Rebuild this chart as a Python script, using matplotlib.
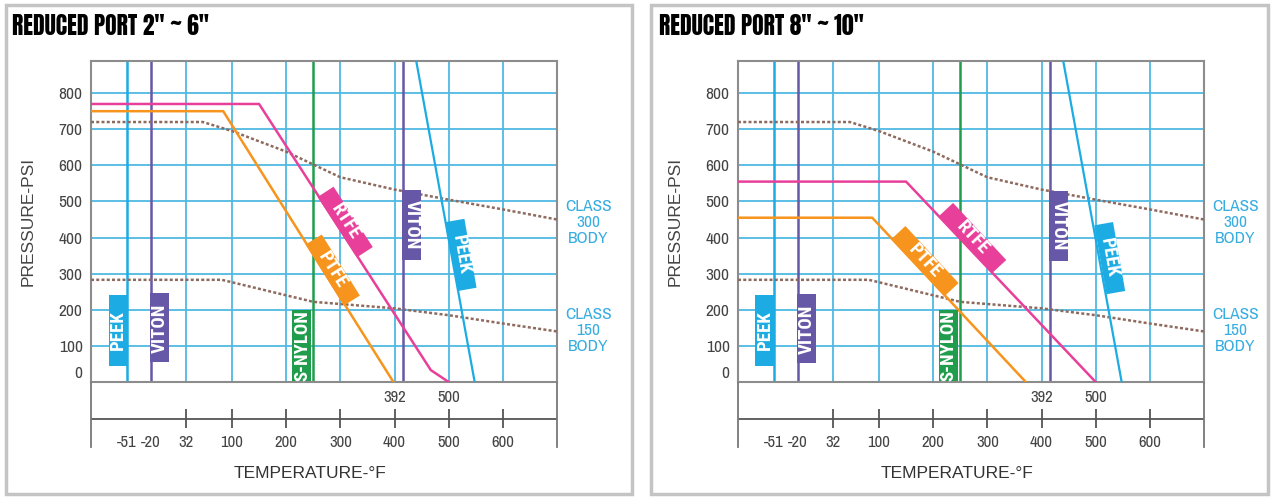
import numpy as np
import matplotlib
matplotlib.use("Agg")
import matplotlib.pyplot as plt
from matplotlib.patches import Rectangle
from matplotlib.transforms import Affine2D, ScaledTranslation, blended_transform_factory

# ---- values ----
pressure_ticks = [0, 100, 200, 300, 400, 500, 600, 700, 800]
grid_temps = [32, 100, 200, 300, 400, 500, 600]
temp_labels = [-51, -20, 32, 100, 200, 300, 400, 500, 600]
limit_labels = ["392", "500"]
limit_label_temps = [400, 500]

# ASME body ratings (same in both panels)
class300_t = [-100, 57, 100, 200, 300, 400, 500, 600, 700]
class300_p = [720, 720, 695, 638, 567, 533, 505, 478, 450]
class150_t = [-100, 85, 250, 400, 500, 600, 700]
class150_p = [283, 283, 222, 204, 185, 162, 140]

# seat limits
peek_min_t = -51
viton_min_t = -20
nylon_max_t = 250
viton_max_t = 416
peek_t = [440, 548]
peek_p = [890, 0]

# reduced port 2" ~ 6"
small_rtfe_t = [-100, 150, 467, 500]
small_rtfe_p = [770, 770, 33, 0]
small_ptfe_t = [-100, 87, 398]
small_ptfe_p = [750, 750, 0]

# reduced port 8" ~ 10"
large_rtfe_t = [-100, 150, 500]
large_rtfe_p = [555, 555, 0]
large_ptfe_t = [-100, 90, 371]
large_ptfe_p = [455, 455, 0]

# colours / fonts
GRID = "#4fb9e3"
PEEK = "#1cace3"
VITON = "#6658a6"
NYLON = "#1f9d4c"
PTFE = "#f7941d"
RTFE = "#e8409a"
BODY = "#8e6a5e"
CLASS_TXT = "#38ade0"
NARROW = ["Archivo Narrow", "DejaVu Sans"]
NARROW_BOLD = ["Roboto Condensed", "DejaVu Sans"]
TITLE_FONT = ["Anton", "DejaVu Sans"]
SANS = ["Liberation Sans", "DejaVu Sans"]

# temperature axis is stretched below 100 F on the original
knot_t = [-100, -51, -20, 32, 100, 700]
knot_x = [0, 36, 60, 95, 141, 466]


def fwd(t):
    return np.interp(t, knot_t, knot_x)


def inv(x):
    return np.interp(x, knot_x, knot_t)


def tag(ax, t, p, text, color, angle, length, width=0.19):
    fig = ax.figure
    tr = Affine2D().rotate_deg(angle) + fig.dpi_scale_trans + ScaledTranslation(t, p, ax.transData)
    ax.add_patch(Rectangle((-length / 2, -width / 2), length, width, transform=tr,
                           facecolor=color, edgecolor="none", zorder=5, clip_on=False))
    ax.text(t, p, text, rotation=angle, rotation_mode="anchor", ha="center", va="center",
            color="white", fontsize=13.5, fontweight="bold", family=NARROW_BOLD, zorder=6)


def panel(fig, x0, title, rtfe_t, rtfe_p, ptfe_t, ptfe_p, tags):
    W, H = 1274, 499
    ax = fig.add_axes([x0 / W, (H - 382) / H, 466 / W, 321 / H])
    ax.set_xscale("function", functions=(fwd, inv))
    ax.set_xlim(-100, 700)
    ax.set_ylim(0, 889)
    for s in ax.spines.values():
        s.set_color("#8c8c8c")
        s.set_linewidth(1.5)

    for p in pressure_ticks[1:]:
        ax.axhline(p, color=GRID, lw=1.3, zorder=1)
    for t in grid_temps:
        ax.axvline(t, color=GRID, lw=1.3, zorder=1)
    ax.axvline(peek_min_t, color=PEEK, lw=1.8, zorder=2)
    ax.axvline(viton_min_t, color=VITON, lw=1.8, zorder=2)
    ax.axvline(nylon_max_t, color=NYLON, lw=1.8, zorder=2)
    ax.axvline(viton_max_t, color=VITON, lw=1.8, zorder=2)

    ax.plot(class300_t, class300_p, color=BODY, lw=1.8, ls=(0, (1.2, 0.9)), zorder=3)
    ax.plot(class150_t, class150_p, color=BODY, lw=1.8, ls=(0, (1.2, 0.9)), zorder=3)
    ax.plot(peek_t, peek_p, color=PEEK, lw=1.6, zorder=3)
    ax.plot(ptfe_t, ptfe_p, color=PTFE, lw=1.8, zorder=4)
    ax.plot(rtfe_t, rtfe_p, color=RTFE, lw=1.8, zorder=4)

    ax.set_xticks([])
    ax.set_yticks(pressure_ticks)
    ax.set_yticklabels([str(p) for p in pressure_ticks], family=NARROW, fontsize=12.5, color="#444444")
    ax.tick_params(axis="y", length=0, pad=6)
    zero = ax.get_yticklabels()[0]
    zero.set_transform(zero.get_transform() + ScaledTranslation(0, 0.1, fig.dpi_scale_trans))
    ax.set_ylabel("PRESSURE-PSI", family=SANS, fontsize=12.5, color="#444444")
    ax.yaxis.set_label_coords(-0.118, 0.5)

    tr = blended_transform_factory(ax.transAxes, ax.transData)
    ax.text(1.067, 441, "CLASS\n300\nBODY", transform=tr, ha="center", va="center",
            color=CLASS_TXT, fontsize=12.5, family=NARROW, linespacing=1.1)
    ax.text(1.067, 143, "CLASS\n150\nBODY", transform=tr, ha="center", va="center",
            color=CLASS_TXT, fontsize=12.5, family=NARROW, linespacing=1.1)

    for (t, p, text, color, angle, length) in tags:
        tag(ax, t, p, text, color, angle, length)

    # temperature scale under the chart
    ax2 = fig.add_axes([x0 / W, (H - 447) / H, 466 / W, 64 / H])
    ax2.set_xscale("function", functions=(fwd, inv))
    ax2.set_xlim(-100, 700)
    ax2.set_ylim(0, 1)
    ax2.set_xticks([])
    ax2.set_yticks([])
    ax2.patch.set_alpha(0)
    for side in ("top", "bottom"):
        ax2.spines[side].set_visible(False)
    for side in ("left", "right"):
        ax2.spines[side].set_color("#777777")
        ax2.spines[side].set_linewidth(1.3)
    ax2.axhline(0.44, color="#555555", lw=1.3)
    ax2.vlines(grid_temps, 0.3, 0.6, color="#555555", lw=1.3)
    for t in temp_labels:
        ax2.text(t, 0.07, str(t), ha="center", va="center", family=NARROW, fontsize=12, color="#444444")
    for t, text in zip(limit_label_temps, limit_labels):
        ax2.text(t, 0.78, text, ha="center", va="center", family=NARROW, fontsize=12, color="#444444")
    ax2.text(0.47, -0.42, "TEMPERATURE-°F", transform=ax2.transAxes, ha="center", va="center",
             family=SANS, fontsize=12.5, color="#333333")

    fig.text((x0 - 79) / W, (H - 26) / H, title, ha="left", va="center",
             family=TITLE_FONT, fontsize=17, color="black")


fig = plt.figure(figsize=(12.74, 4.99), dpi=100)
fig.patches.append(Rectangle((6 / 1274, 5 / 499), 626 / 1274, 489 / 499, transform=fig.transFigure,
                             fill=False, edgecolor="#c4c4c4", lw=2.5))
fig.patches.append(Rectangle((651 / 1274, 5 / 499), 617 / 1274, 489 / 499, transform=fig.transFigure,
                             fill=False, edgecolor="#c4c4c4", lw=2.5))

small_tags = [
    (-63, 144, "PEEK", PEEK, 90, 0.71),
    (-7, 150, "VITON", VITON, 90, 0.69),
    (229, 100, "S-NYLON", NYLON, 90, 0.71),
    (309, 443, "RTFE", RTFE, -57, 0.72),
    (286, 310, "PTFE", PTFE, -58, 0.72),
    (432, 435, "VITON", VITON, -90, 0.70),
    (523, 352, "PEEK", PEEK, -80, 0.70),
]
large_tags = [
    (-64, 144, "PEEK", PEEK, 90, 0.71),
    (-7, 147, "VITON", VITON, 90, 0.69),
    (229, 100, "S-NYLON", NYLON, 90, 0.71),
    (273, 399, "RTFE", RTFE, -47, 0.78),
    (185, 335, "PTFE", PTFE, -47, 0.78),
    (432, 432, "VITON", VITON, -90, 0.70),
    (526, 343, "PEEK", PEEK, -80, 0.70),
]

panel(fig, 91, 'REDUCED PORT 2" ~ 6"', small_rtfe_t, small_rtfe_p, small_ptfe_t, small_ptfe_p, small_tags)
panel(fig, 738, 'REDUCED PORT 8" ~ 10"', large_rtfe_t, large_rtfe_p, large_ptfe_t, large_ptfe_p, large_tags)

fig.savefig("out.png", dpi=100)
